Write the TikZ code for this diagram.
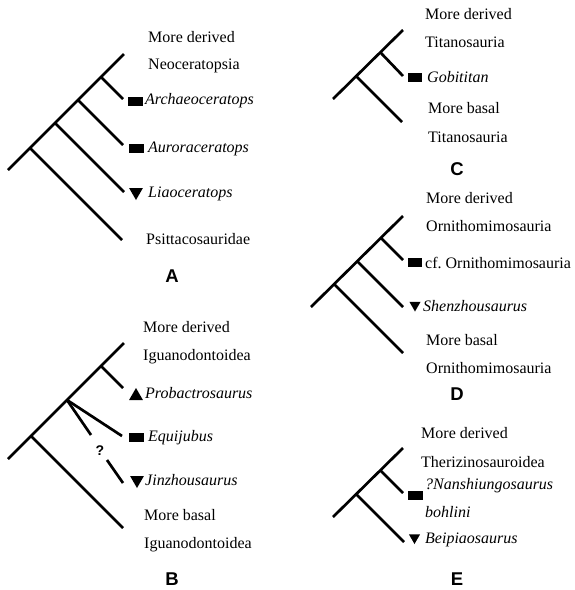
\documentclass[tikz,border=0pt]{standalone}
\usepackage{fontspec}
\setmainfont{Liberation Serif}
\newfontfamily\panelfont{Liberation Sans}
\usetikzlibrary{shapes.geometric}

\begin{document}
\begin{tikzpicture}[x=1pt, y=-1pt,
    branch/.style={line width=2.7pt},
    taxon/.style={anchor=base west, inner sep=0pt, font=\fontsize{16}{19}\selectfont},
    panel/.style={anchor=base, inner sep=0pt, font=\panelfont\bfseries\fontsize{18.5}{20}\selectfont},
    markbar/.style={rectangle, fill=black, minimum width=15pt, minimum height=9pt, inner sep=0pt},
    markdown/.style={regular polygon, regular polygon sides=3, shape border rotate=180, fill=black, minimum size=16pt, inner sep=0pt},
    markup/.style={regular polygon, regular polygon sides=3, fill=black, minimum size=16pt, inner sep=0pt}]
    \useasboundingbox (0,0) rectangle (574,590);

    % Panel A (Neoceratopsia)
    \coordinate (A_root) at (8,170);
    \coordinate (A_top) at (124,54);
    \coordinate (A_n1) at (30,148);
    \coordinate (A_n2) at (55,123);
    \coordinate (A_n3) at (78,100);
    \coordinate (A_n4) at (101,77);
    \coordinate (A_psi) at (122,240);
    \coordinate (A_lia) at (124,192);
    \coordinate (A_aur) at (123,145);
    \coordinate (A_arc) at (123,99);

    \draw[branch] (A_root) -- (A_top);
    \draw[branch] (A_n1) -- (A_psi);
    \draw[branch] (A_n2) -- (A_lia);
    \draw[branch] (A_n3) -- (A_aur);
    \draw[branch] (A_n4) -- (A_arc);

    \node[taxon] (A_lab1) at (148,42) {More derived};
    \node[taxon] (A_lab2) at (148,69) {Neoceratopsia};
    \node[markbar] (A_m1) at (135,101) {};
    \node[taxon] (A_lab3) at (145,104) {\itshape Archaeoceratops};
    \node[markbar] (A_m2) at (136,148) {};
    \node[taxon] (A_lab4) at (148,152) {\itshape Auroraceratops};
    \node[markdown] (A_m3) at (136,192) {};
    \node[taxon] (A_lab5) at (148,197) {\itshape Liaoceratops};
    \node[taxon] (A_lab6) at (146,244) {Psittacosauridae};
    \node[panel] (A_tag) at (172,282) {A};

    % Panel B (Iguanodontoidea)
    \coordinate (B_root) at (8,459);
    \coordinate (B_top) at (124,343);
    \coordinate (B_n1) at (31,436);
    \coordinate (B_n2) at (67,400);
    \coordinate (B_n3) at (101,366);
    \coordinate (B_bas) at (123,528);
    \coordinate (B_equ) at (122,436);
    \coordinate (B_q1) at (91,435); % gap for the question mark
    \coordinate (B_q2) at (107,460);
    \coordinate (B_jin) at (123,483);
    \coordinate (B_pro) at (123,388);

    \draw[branch] (B_root) -- (B_top);
    \draw[branch] (B_n1) -- (B_bas);
    \draw[branch] (B_n2) -- (B_equ);
    \draw[branch] (B_n2) -- (B_q1);
    \draw[branch] (B_q2) -- (B_jin);
    \draw[branch] (B_n3) -- (B_pro);

    \node[taxon] (B_lab1) at (143,332) {More derived};
    \node[taxon] (B_lab2) at (143,360) {Iguanodontoidea};
    \node[markup] (B_m1) at (136,396) {};
    \node[taxon] (B_lab3) at (145,398) {\itshape Probactrosaurus};
    \node[markbar] (B_m2) at (136,437) {};
    \node[taxon] (B_lab4) at (148,441) {\itshape Equijubus};
    \node[panel, font=\panelfont\bfseries\fontsize{14}{16}\selectfont] (B_q) at (100,455) {?};
    \node[markdown] (B_m3) at (137,480) {};
    \node[taxon] (B_lab5) at (145,485) {\itshape Jinzhousaurus};
    \node[taxon] (B_lab6) at (144,520) {More basal};
    \node[taxon] (B_lab7) at (144,548) {Iguanodontoidea};
    \node[panel] (B_tag) at (172,585) {B};

    % Panel C (Titanosauria)
    \coordinate (C_root) at (333,99);
    \coordinate (C_top) at (403,30);
    \coordinate (C_n1) at (356,76);
    \coordinate (C_n2) at (380,52);
    \coordinate (C_bas) at (402,122);
    \coordinate (C_gob) at (403,76);

    \draw[branch] (C_root) -- (C_top);
    \draw[branch] (C_n1) -- (C_bas);
    \draw[branch] (C_n2) -- (C_gob);

    \node[taxon] (C_lab1) at (425,19) {More derived};
    \node[taxon] (C_lab2) at (425,47) {Titanosauria};
    \node[markbar, minimum width=14pt] (C_m1) at (414.5,77) {};
    \node[taxon] (C_lab3) at (427,82) {\itshape Gobititan};
    \node[taxon] (C_lab4) at (428,113) {More basal};
    \node[taxon] (C_lab5) at (428,142) {Titanosauria};
    \node[panel] (C_tag) at (457,175) {C};

    % Panel D (Ornithomimosauria)
    \coordinate (D_root) at (311,307);
    \coordinate (D_top) at (403,216);
    \coordinate (D_n1) at (334,284);
    \coordinate (D_n2) at (357,261);
    \coordinate (D_n3) at (381,238);
    \coordinate (D_bas) at (403,353);
    \coordinate (D_she) at (403,307);
    \coordinate (D_cf) at (403,260);

    \draw[branch] (D_root) -- (D_top);
    \draw[branch] (D_n1) -- (D_bas);
    \draw[branch] (D_n2) -- (D_she);
    \draw[branch] (D_n3) -- (D_cf);

    \node[taxon] (D_lab1) at (426,203) {More derived};
    \node[taxon] (D_lab2) at (426,231) {Ornithomimosauria};
    \node[markbar, minimum width=14pt] (D_m1) at (415,262.5) {};
    \node[taxon] (D_lab3) at (425,268) {cf.\ Ornithomimosauria};
    \node[markdown, minimum size=13pt] (D_m2) at (415,305) {};
    \node[taxon] (D_lab4) at (423,311) {\itshape Shenzhousaurus};
    \node[taxon] (D_lab5) at (426,345) {More basal};
    \node[taxon] (D_lab6) at (426,373) {Ornithomimosauria};
    \node[panel] (D_tag) at (457,400) {D};

    % Panel E (Therizinosauroidea)
    \coordinate (E_root) at (333,517);
    \coordinate (E_top) at (403,448);
    \coordinate (E_n1) at (356,494);
    \coordinate (E_n2) at (380,470);
    \coordinate (E_bei) at (404,542);
    \coordinate (E_nan) at (403,493);

    \draw[branch] (E_root) -- (E_top);
    \draw[branch] (E_n1) -- (E_bei);
    \draw[branch] (E_n2) -- (E_nan);

    \node[taxon] (E_lab1) at (421,438) {More derived};
    \node[taxon] (E_lab2) at (421,467) {Therizinosauroidea};
    \node[markbar] (E_m1) at (415,495) {};
    \node[taxon] (E_lab3) at (425,489) {\itshape ?Nanshiungosaurus};
    \node[taxon] (E_lab4) at (425,517) {\itshape bohlini};
    \node[markdown, minimum size=13pt] (E_m2) at (414.5,537.5) {};
    \node[taxon] (E_lab5) at (425,543) {\itshape Beipiaosaurus};
    \node[panel] (E_tag) at (457,585) {E};
\end{tikzpicture}
\end{document}
